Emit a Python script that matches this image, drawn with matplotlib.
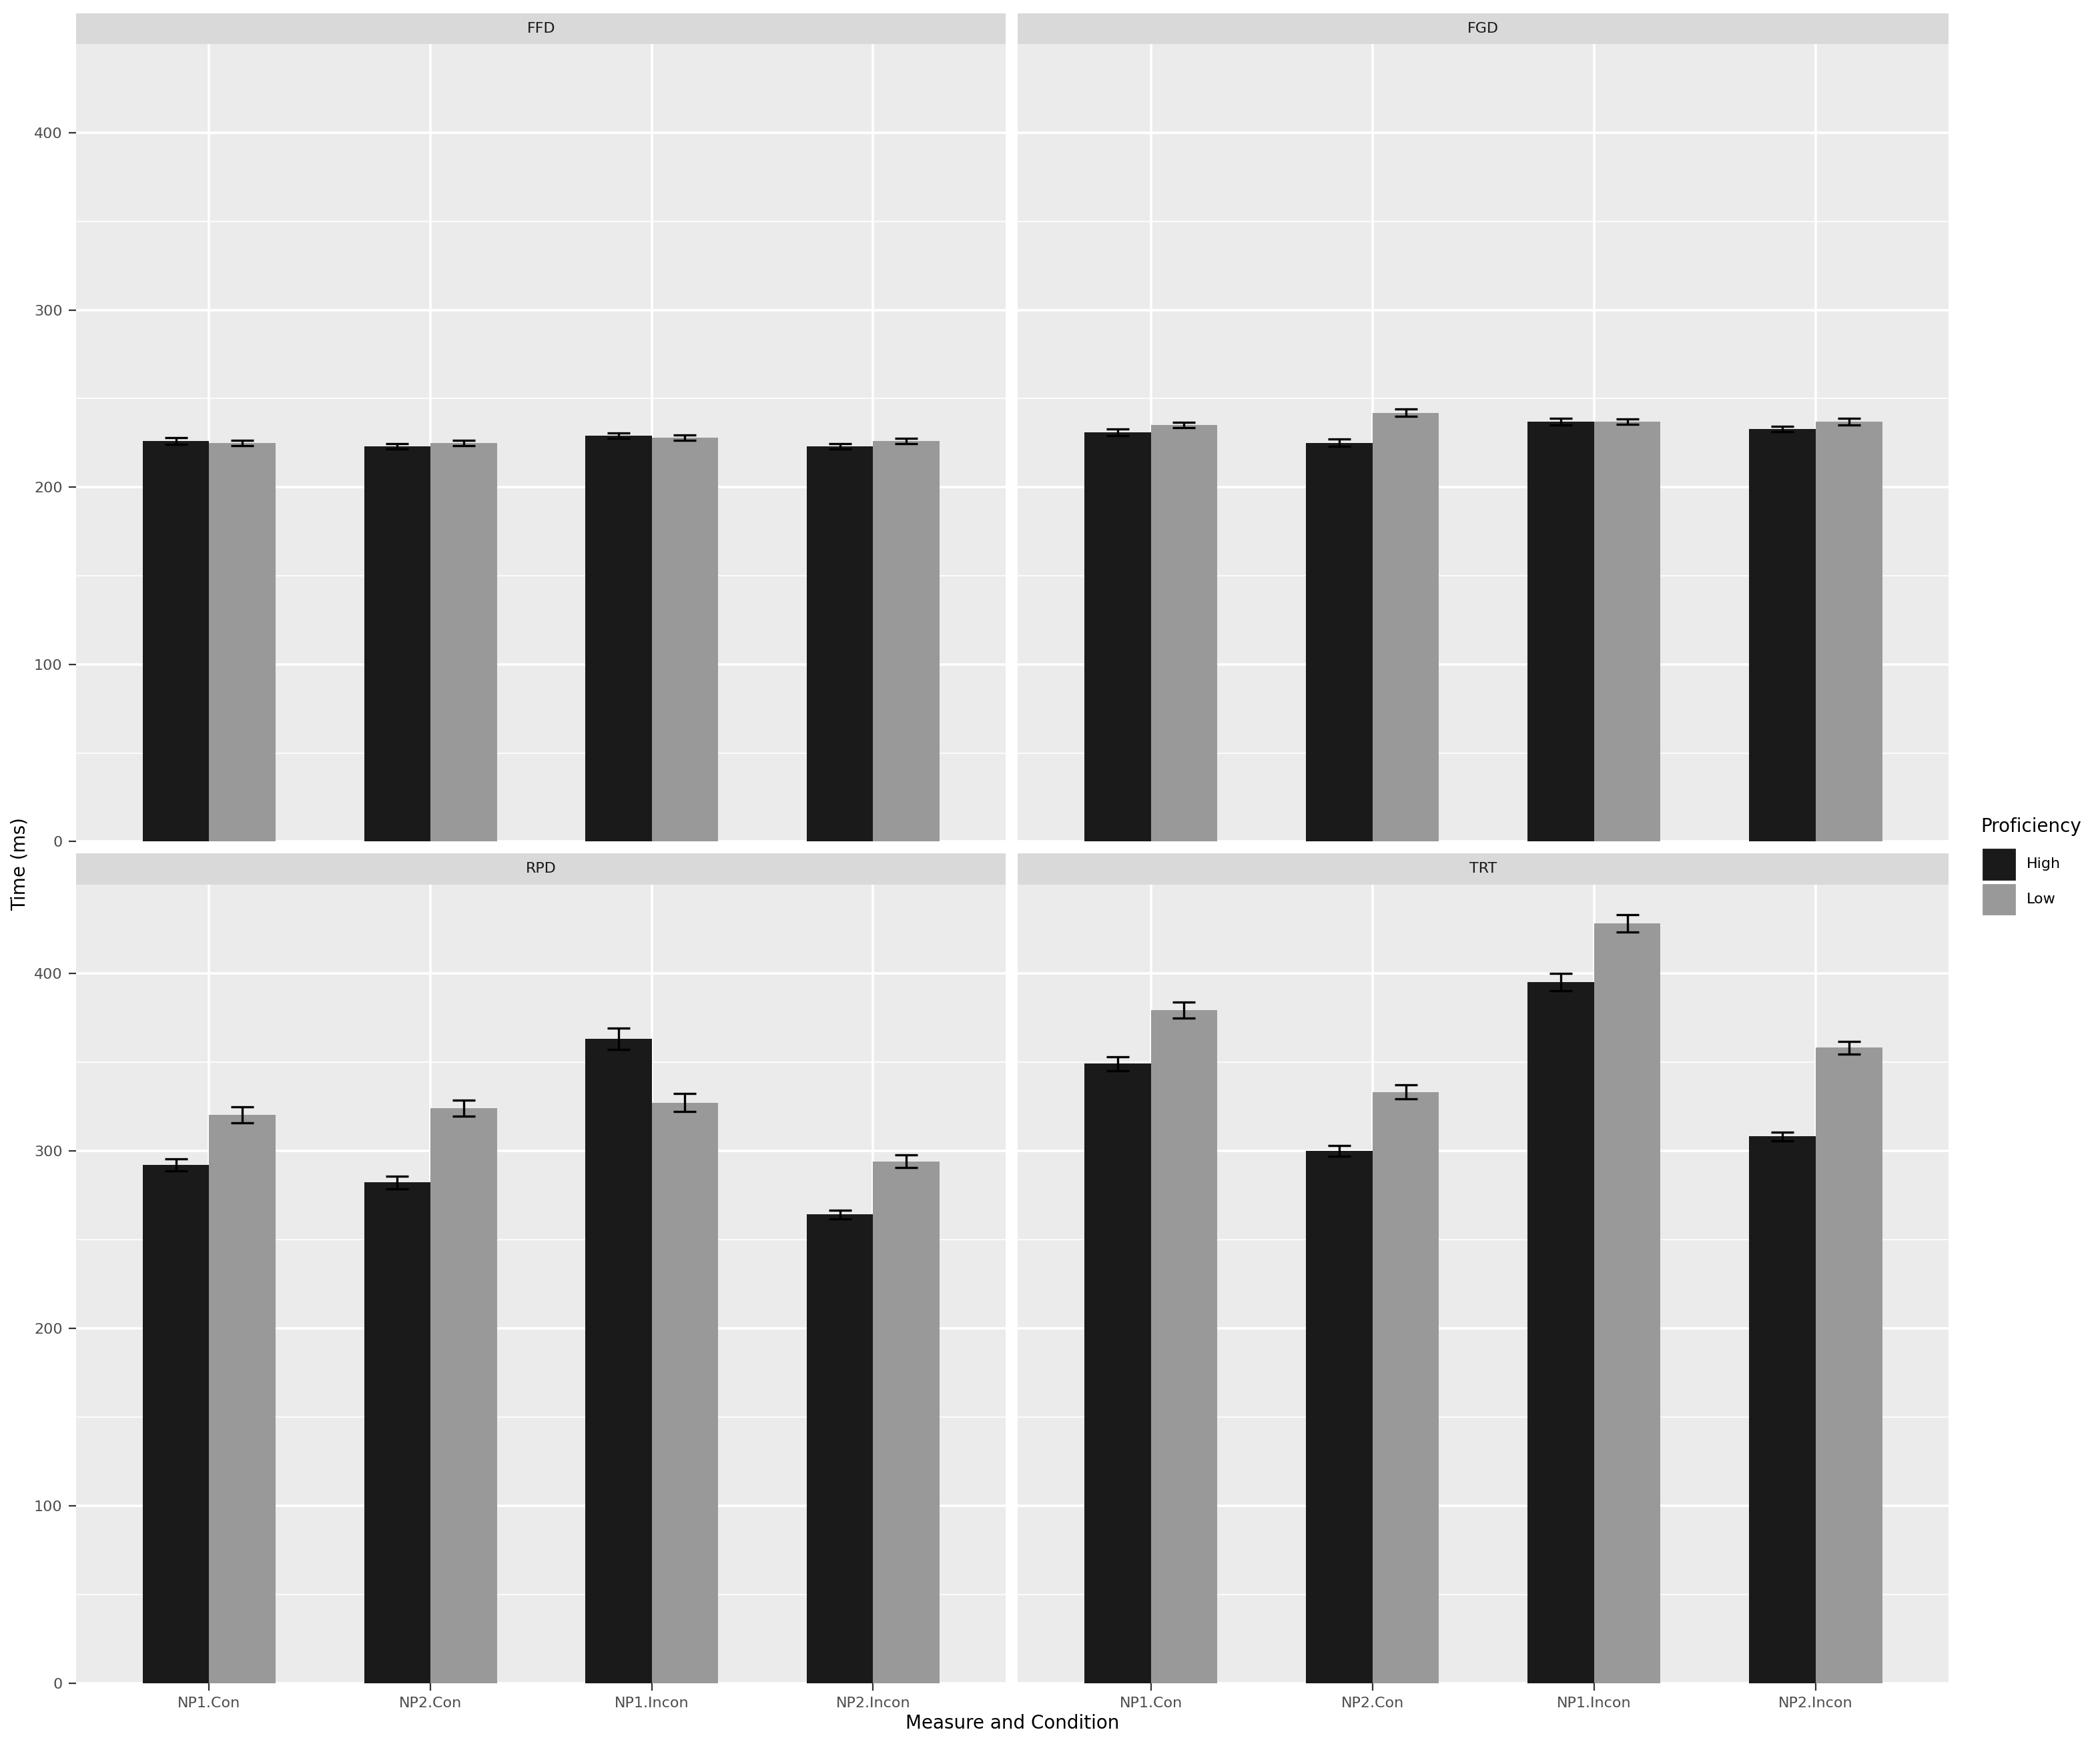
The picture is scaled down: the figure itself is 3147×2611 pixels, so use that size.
import numpy as np
import matplotlib.pyplot as plt

conditions = ["NP1.Con", "NP2.Con", "NP1.Incon", "NP2.Incon"]
measures = ["FFD", "FGD", "RPD", "TRT"]
high = {"FFD": [226, 223, 229, 223], "FGD": [231, 225, 237, 233],
        "RPD": [292, 282, 363, 264], "TRT": [349, 300, 395, 308]}
low = {"FFD": [225, 225, 228, 226], "FGD": [235, 242, 237, 237],
       "RPD": [320, 324, 327, 294], "TRT": [379, 333, 428, 358]}
high_err = {"FFD": [2, 1.5, 1.5, 1.5], "FGD": [2, 2, 2, 1.5],
            "RPD": [3.5, 3.5, 6, 2.5], "TRT": [4, 3, 5, 2.5]}
low_err = {"FFD": [1.5, 1.5, 1.5, 1.5], "FGD": [1.5, 2, 1.5, 2],
           "RPD": [4.5, 4.5, 5, 3.5], "TRT": [4.5, 4, 5, 3.5]}

W, H = 1568, 1300
fig = plt.figure(figsize=(3147 / 200, 2611 / 200), dpi=200)
boxes = [(57, 33, 751, 628), (760, 33, 1455, 628), (57, 660, 751, 1256), (760, 660, 1455, 1256)]
x = np.arange(1, 5)
bw = 0.3
for i, (m, (x0, y0, x1, y1)) in enumerate(zip(measures, boxes)):
    ax = fig.add_axes([x0 / W, 1 - y1 / H, (x1 - x0) / W, (y1 - y0) / H])
    ax.set_facecolor("#EBEBEB")
    ax.bar(x - bw / 2, high[m], bw, color="#1A1A1A", zorder=3)
    ax.bar(x + bw / 2, low[m], bw, color="#999999", zorder=3)
    kw = dict(fmt="none", ecolor="black", elinewidth=1.2, capsize=6, capthick=1.2, zorder=4)
    ax.errorbar(x - bw / 2, high[m], yerr=high_err[m], **kw)
    ax.errorbar(x + bw / 2, low[m], yerr=low_err[m], **kw)
    ax.set_xlim(0.4, 4.6)
    ax.set_ylim(0, 450)
    ax.set_yticks([0, 100, 200, 300, 400])
    ax.set_yticks([50, 150, 250, 350], minor=True)
    ax.set_xticks(x)
    ax.grid(which="major", color="white", lw=1.3, zorder=0)
    ax.grid(which="minor", axis="y", color="white", lw=0.6, zorder=0)
    for s in ax.spines.values():
        s.set_visible(False)
    ax.tick_params(which="major", color="#333333", length=4, labelsize=8, labelcolor="#4D4D4D")
    ax.tick_params(which="minor", length=0)
    if i % 2 == 1:
        ax.tick_params(axis="y", left=False, labelleft=False)
    if i < 2:
        ax.tick_params(axis="x", bottom=False, labelbottom=False)
    else:
        ax.set_xticklabels(conditions)
    sax = fig.add_axes([x0 / W, 1 - y0 / H, (x1 - x0) / W, 23 / H])
    sax.set_facecolor("#D9D9D9")
    sax.set_xticks([]); sax.set_yticks([])
    for s in sax.spines.values():
        s.set_visible(False)
    sax.text(0.5, 0.5, m, ha="center", va="center", fontsize=8, color="#1A1A1A", transform=sax.transAxes)

fig.text(756 / W, 1 - 1286 / H, "Measure and Condition", ha="center", va="center", fontsize=10)
fig.text(15 / W, 1 - 645 / H, "Time (ms)", ha="center", va="center", rotation=90, fontsize=10)
fig.text(1479 / W, 1 - 617 / H, "Proficiency", ha="left", va="center", fontsize=10)
for j, (lab, col) in enumerate([("High", "#1A1A1A"), ("Low", "#999999")]):
    yc = 645 + 26 * j
    fig.patches.append(plt.Rectangle((1481 / W, 1 - (yc + 11) / H), 23 / W, 22 / H,
                                     transform=fig.transFigure, color=col))
    fig.text(1513 / W, 1 - yc / H, lab, ha="left", va="center", fontsize=8)

fig.savefig("out.png", dpi=200, facecolor="white")
